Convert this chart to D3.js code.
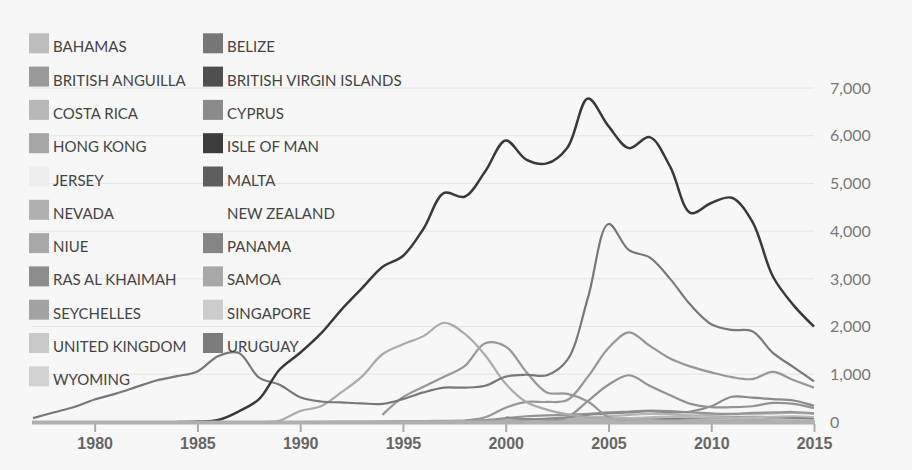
<!DOCTYPE html>
<html>
<head>
<meta charset="utf-8">
<script src="https://cdn.jsdelivr.net/npm/d3@7"></script>
<style>
  body { margin: 0; background: #f7f7f7; }
  svg { display: block; font-family: Lato, "Open Sans", sans-serif; }
  .legend-label { font-size: 15px; fill: #444; }
  .x-axis text { font-size: 16px; font-weight: bold; fill: #666; }
  .y-label { font-size: 16px; fill: #777; }
</style>
</head>
<body>
<svg id="chart"></svg>
<script>
var width = 912;
var height = 470;

// jurisdictions, in legend order
const countries = ["BAHAMAS", "BELIZE", "BRITISH ANGUILLA", "BRITISH VIRGIN ISLANDS",
  "COSTA RICA", "CYPRUS", "HONG KONG", "ISLE OF MAN", "JERSEY", "MALTA",
  "NEVADA", "NEW ZEALAND", "NIUE", "PANAMA", "RAS AL KHAIMAH", "SAMOA",
  "SEYCHELLES", "SINGAPORE", "UNITED KINGDOM", "URUGUAY", "WYOMING"];

// first year of each series
const startYears = [1988, 2000, 2000, 1984, 1990, 1995, 1998, 1998, 2000, 2004,
  2000, 2005, 1994, 1977, 2006, 1998, 2001, 2002, 2001, 1996, 2004];

// companies incorporated per year
const BAHAMAS = [0, 30, 230, 330, 620, 950, 1420, 1630, 1800, 2080, 1850, 1400, 800, 420, 260, 160, 100, 70, 50, 40, 30, 30, 25, 20, 20, 15, 15, 10];
const BELIZE = [5, 10, 10, 15, 15, 20, 20, 25, 25, 30, 25, 20, 20, 15, 15, 10];
const BRITISH_ANGUILLA = [100, 60, 70, 100, 150, 180, 200, 230, 200, 220, 330, 530, 510, 480, 450, 340];
const BVI = [0, 10, 40, 220, 480, 1100, 1450, 1850, 2350, 2800, 3250, 3480, 4050, 4800, 4720, 5250, 5900, 5500, 5420, 5750, 6780, 6200, 5740, 5970, 5350, 4380, 4590, 4700, 4200, 3050, 2450, 2000];
const COSTA_RICA = [0, 5, 10, 10, 15, 20, 20, 25, 30, 30, 35, 40, 40, 45, 50, 50, 45, 40, 35, 30, 30, 25, 20, 20, 15, 15];
const CYPRUS = [5, 10, 10, 15, 15, 20, 20, 25, 25, 30, 30, 35, 35, 30, 30, 25, 25, 30, 30, 35, 30];
const HONG_KONG = [20, 40, 80, 120, 140, 150, 170, 200, 220, 240, 230, 200, 180, 170, 190, 200, 210, 180];
const ISLE_OF_MAN = [5, 10, 15, 20, 25, 30, 30, 30, 25, 25, 20, 20, 15, 15, 10, 10, 10, 5];
const JERSEY = [5, 5, 10, 10, 15, 15, 20, 20, 20, 15, 15, 10, 10, 10, 5, 5];
const MALTA = [5, 10, 15, 20, 25, 25, 25, 20, 20, 15, 15, 10];
const NEVADA = [10, 20, 30, 50, 60, 70, 80, 80, 70, 60, 60, 50, 60, 70, 60, 50];
const NEW_ZEALAND = [5, 10, 20, 30, 40, 50, 40, 30, 20, 20, 10];
const NIUE = [150, 520, 740, 950, 1170, 1650, 1580, 1050, 620, 590, 430, 100, 20];
const PANAMA = [80, 200, 315, 470, 590, 730, 870, 960, 1060, 1380, 1450, 930, 780, 520, 430, 410, 390, 380, 480, 620, 720, 720, 760, 950, 990, 980, 1300, 2600, 4150, 3600, 3450, 3000, 2450, 2050, 1930, 1900, 1450, 1150, 850];
const RAS_AL_KHAIMAH = [10, 30, 60, 80, 90, 100, 110, 100, 90, 80];
const SAMOA = [30, 100, 300, 420, 420, 460, 950, 1550, 1880, 1600, 1330, 1160, 1040, 940, 900, 1050, 880, 720];
const SEYCHELLES = [0, 20, 100, 440, 780, 980, 760, 560, 380, 310, 310, 330, 400, 380, 290];
const SINGAPORE = [10, 20, 40, 60, 80, 100, 110, 100, 90, 90, 100, 110, 120, 100];
const UNITED_KINGDOM = [10, 30, 60, 90, 120, 150, 170, 160, 140, 150, 160, 170, 180, 190, 170];
const URUGUAY = [5, 10, 10, 15, 20, 20, 25, 25, 30, 30, 30, 35, 30, 30, 25, 25, 30, 30, 35, 30];
const WYOMING = [5, 10, 20, 30, 40, 50, 60, 70, 80, 70, 60, 50];

const values = [BAHAMAS, BELIZE, BRITISH_ANGUILLA, BVI, COSTA_RICA, CYPRUS, HONG_KONG,
  ISLE_OF_MAN, JERSEY, MALTA, NEVADA, NEW_ZEALAND, NIUE, PANAMA, RAS_AL_KHAIMAH,
  SAMOA, SEYCHELLES, SINGAPORE, UNITED_KINGDOM, URUGUAY, WYOMING];

const xTicks = [1980, 1985, 1990, 1995, 2000, 2005, 2010, 2015];
const yTicks = [0, 1000, 2000, 3000, 4000, 5000, 6000, 7000];

const colors = ["#bdbdbd", "#777777", "#9a9a9a", "#4f4f4f", "#b8b8b8", "#8a8a8a", "#a6a6a6",
  "#3c3c3c", "#eeeeee", "#5e5e5e", "#b0b0b0", "#f7f7f7", "#a8a8a8", "#858585", "#8c8c8c",
  "#a8a8a8", "#a3a3a3", "#cccccc", "#c8c8c8", "#7c7c7c", "#d2d2d2"];

const series = countries.map((name, i) => ({
  name: name,
  color: colors[i],
  points: values[i].map((v, j) => ({ year: startYears[i] + j, value: v }))
}));

const svg = d3.select("#chart")
  .attr("width", width)
  .attr("height", height);

const x = d3.scaleLinear().domain([1977, 2015]).range([33, 814]);
const y = d3.scaleLinear().domain([0, 7000]).range([422, 88]);

// gridlines + right-hand value labels
svg.append("g")
  .selectAll("line")
  .data(yTicks.slice(1))
  .enter()
  .append("line")
  .attr("x1", 32)
  .attr("x2", 814)
  .attr("y1", d => y(d))
  .attr("y2", d => y(d))
  .attr("stroke", "#e4e4e4")
  .attr("stroke-width", 1);

svg.append("g")
  .selectAll("text")
  .data(yTicks)
  .enter()
  .append("text")
  .attr("class", "y-label")
  .attr("x", 830)
  .attr("y", d => y(d))
  .attr("dy", "0.36em")
  .text(d => d3.format(",")(d));

// lines, dark ones drawn last
const line = d3.line()
  .x(d => x(d.year))
  .y(d => y(Math.max(0, d.value)))
  .curve(d3.curveCatmullRom.alpha(0.5));

const order = series.slice().sort((a, b) => d3.max(a.points, p => p.value) - d3.max(b.points, p => p.value));

svg.append("g")
  .selectAll("path")
  .data(order)
  .enter()
  .append("path")
  .attr("d", d => line(d.points))
  .attr("fill", "none")
  .attr("stroke", d => d3.color(d.color).darker(d.name == "BRITISH VIRGIN ISLANDS" ? 0.9 : 0.3))
  .attr("stroke-width", d => d.name == "BRITISH VIRGIN ISLANDS" ? 2.5 : 2.2);

// x axis
const xAxis = svg.append("g")
  .attr("class", "x-axis")
  .attr("transform", "translate(0,424)")
  .call(d3.axisBottom(x).tickValues(xTicks).tickFormat(d3.format("d")).tickSize(8).tickPadding(6));

xAxis.select(".domain").remove();
xAxis.selectAll(".tick line").attr("stroke", "#aaa").attr("stroke-width", 2);

svg.append("line")
  .attr("x1", 32)
  .attr("x2", 815)
  .attr("y1", 422.5)
  .attr("y2", 422.5)
  .attr("stroke", "#b0b0b0")
  .attr("stroke-width", 4);

// legend, two columns
const legend = svg.append("g");

const legendItems = legend.selectAll(".legend-item")
  .data(series)
  .enter()
  .append("g")
  .attr("class", "legend-item")
  .attr("transform", (d, i) => `translate(${i % 2 == 0 ? 29 : 203}, ${33.3 + Math.floor(i / 2) * 33.3})`);

legendItems.append("rect")
  .attr("width", 20)
  .attr("height", 20)
  .attr("fill", d => d.color);

legendItems.append("text")
  .attr("class", "legend-label")
  .attr("x", 24)
  .attr("y", 19)
  .text(d => d.name);
</script>
</body>
</html>
